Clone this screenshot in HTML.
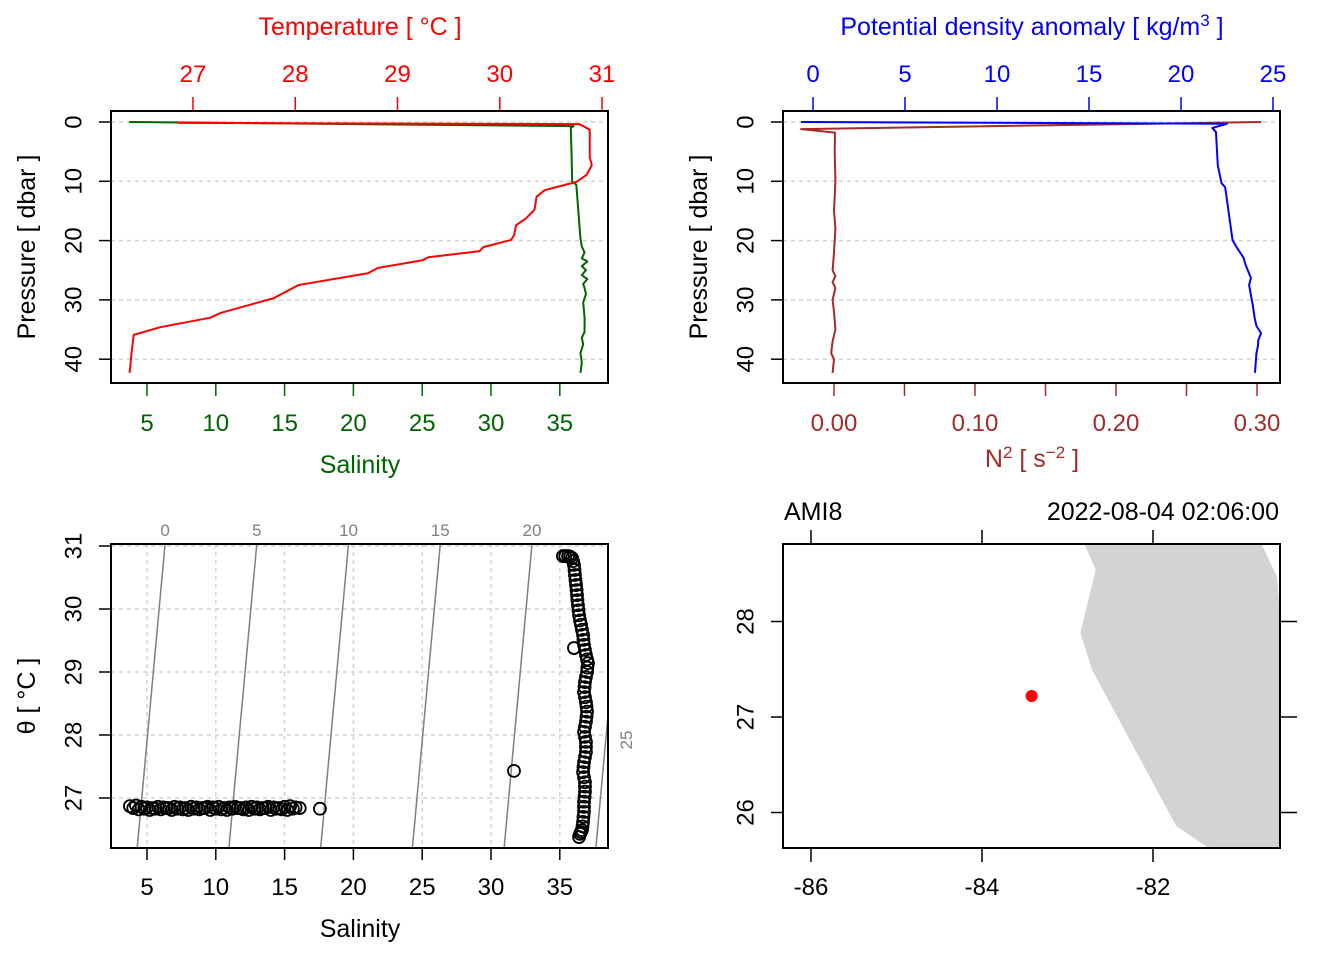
<!DOCTYPE html>
<html><head><meta charset="utf-8"><style>
body{margin:0;background:#fff}
svg{display:block;font-family:"Liberation Sans",sans-serif}
</style></head><body>
<svg id="s" width="1344" height="960" viewBox="0 0 1344 960" xmlns="http://www.w3.org/2000/svg"></svg>
<script>
// ---- data ----
const tempP=[0.15,0.35,1.3,5.9,7.3,8.9,10.1,11.5,12.6,14.8,16.2,17.4,19.1,19.9,21.1,21.8,22.8,23.3,24.6,25.5,27.5,29.7,32.2,33.0,34.6,35.9,38.8,42.3];
const tempT=[26.85,30.78,30.88,30.88,30.9,30.85,30.75,30.44,30.36,30.34,30.26,30.16,30.14,30.11,29.84,29.80,29.30,29.25,28.81,28.71,28.03,27.79,27.27,27.17,26.68,26.42,26.40,26.38];
const salP=[0.0,0.7,1.0,5.0,10.1,10.6,19.6,21,22,23,23.5,24.3,25,25.8,26.5,27.3,28,29,30.4,33,35.4,36.4,37.5,39,40.5,42.3];
const salS=[3.7,36.0,35.8,35.85,35.9,36.2,36.5,36.6,36.8,36.6,37.0,36.6,36.9,36.6,37.0,36.7,36.8,36.9,36.7,36.8,36.8,36.6,36.7,36.5,36.6,36.5];
const sigP=[0,0.3,1.0,1.7,7.3,10.3,11.0,19.9,21,22.9,24,26.3,27.5,30.9,33,34.4,35.6,36.8,37.8,39,42.3];
const sigS=[-0.65,22.5,21.7,21.9,22.0,22.2,22.4,22.8,23.0,23.4,23.5,23.8,23.7,23.9,24.0,24.1,24.35,24.2,24.18,24.1,24.02];
const n2P=[0,1.2,1.8,5,10,15,18,22,25,26,27,28,30,32,35,37,39,40,42.3];
const n2N=[0.303,-0.0234,0.0007,0.0005,0.001,0.0,0.001,0.0,-0.001,0.001,-0.001,0.001,-0.001,0.0,0.001,-0.001,-0.002,0.0,-0.001];
const tsS=[3.76,4.2,4.6,5.0,5.4,5.8,6.2,6.6,7.0,7.4,7.8,8.2,8.6,9.0,9.4,9.8,10.2,10.6,11.0,11.4,11.8,12.2,12.6,13.0,13.4,13.8,14.2,14.6,15.0,15.4,15.8,16.1,17.57,31.67,36.03,
35.23,35.60,35.89,36.03,36.10,36.18,36.25,36.32,36.40,36.54,36.69,36.76,36.90,37.05,36.98,36.83,36.76,36.90,36.98,36.90,36.76,36.90,36.90,36.76,36.69,36.83,36.83,36.76,36.76,36.69,36.61,36.47,
35.4,35.75,35.96,36.07,36.14,36.22,36.28,36.36,36.47,36.61,36.72,36.83,36.98,37.0,36.9,36.8,36.83,36.94,36.94,36.83,36.83,36.9,36.83,36.72,36.76,36.83,36.8,36.76,36.72,36.65,36.54,36.4,
4.0,4.4,4.8,5.2,5.6,6.0,6.4,6.8,7.2,7.6,8.0,8.4,8.8,9.2,9.6,10.0,10.4,10.8,11.2,11.6,12.0,12.4,12.8,13.2,13.6,14.0,14.4,14.8,15.2,15.6];
const tsT=[26.87,26.88,26.86,26.85,26.84,26.86,26.85,26.84,26.86,26.85,26.84,26.86,26.85,26.84,26.86,26.85,26.86,26.84,26.85,26.86,26.84,26.85,26.86,26.85,26.84,26.86,26.85,26.84,26.86,26.87,26.85,26.84,26.83,27.43,29.38,
30.84,30.84,30.81,30.70,30.54,30.38,30.22,30.06,29.90,29.75,29.59,29.43,29.27,29.14,29.00,28.84,28.68,28.52,28.37,28.21,28.05,27.89,27.73,27.57,27.41,27.25,27.10,26.94,26.78,26.62,26.49,26.43,
30.84,30.83,30.76,30.62,30.46,30.30,30.14,29.98,29.82,29.67,29.51,29.35,29.2,29.07,28.92,28.76,28.6,28.45,28.29,28.13,27.97,27.81,27.65,27.49,27.33,27.18,27.02,26.86,26.7,26.55,26.46,26.38,
26.84,26.82,26.83,26.81,26.83,26.82,26.84,26.81,26.83,26.82,26.81,26.83,26.82,26.84,26.81,26.83,26.82,26.81,26.83,26.84,26.82,26.81,26.83,26.82,26.84,26.81,26.83,26.82,26.81,26.83];
const sigLevels=[0,5,10,15,20,25];
const landLon=[-82.80,-82.67,-82.85,-82.71,-81.73,-81.37,-80.51,-80.51,-80.55,-80.73];
const landLat=[28.81,28.54,27.88,27.49,25.86,25.64,25.63,28.02,28.47,28.81];
const stationLon=[-83.42], stationLat=[27.22];
const pTicks=[0,10,20,30,40], tTicks=[27,28,29,30,31], sTicks=[5,10,15,20,25,30,35];
const dTicks=[0,5,10,15,20,25], nTicks=[0,0.05,0.10,0.15,0.20,0.25,0.30], nLabels=["0.00","","0.10","","0.20","","0.30"];
const thTicks=[27,28,29,30,31], lonTicks=[-86,-84,-82], latTicks=[26,27,28];

// ---- scales ----
const py=p=>122+p*5.93;
const tx=t=>193+(t-27)*102.25;
const sx=s=>147+(s-5)*13.76;
const dx=d=>813+d*18.4;
const nx=n=>834+n*1410;
const thy=t=>798-(t-27)*63;
const lx=l=>811+(l+86)*85.5;
const ly=l=>717-(l-27)*95.5;

const S=document.getElementById('s');
const NS='http://www.w3.org/2000/svg';
function el(tag,attrs,name,txt,parent){const e=document.createElementNS(NS,tag);for(const k in attrs)e.setAttribute(k,attrs[k]);


if(txt!==undefined)e.textContent=txt;(parent||S).appendChild(e);return e;}
function line(x1,y1,x2,y2,st,w,name,dash){return el('line',{x1,y1,x2,y2,stroke:st,'stroke-width':w||1,'stroke-dasharray':dash||'none'},name);}
function text(x,y,t,fill,size,name,anchor,rot){const a={x,y,fill,'font-size':size,'text-anchor':anchor||'middle'};if(rot)a.transform=`rotate(-90 ${x} ${y})`;return el('text',a,name,t);}
function poly(xs,ys,st,name){return el('polyline',{points:xs.map((x,i)=>x+','+ys[i]).join(' '),fill:'none',stroke:st,'stroke-width':2,'stroke-linejoin':'round'},name);}
const GD='#d3d3d3';
const TF=24, AF=25;

const defs=el('defs',{},'defs');
[['c1',111,111,497,272],['c2',783,111,497,272],['c3',111,544,497,304],['c4',783,544,497,304]].forEach(c=>{const cp=el('clipPath',{id:c[0]},'clip',undefined,defs);el('rect',{x:c[1],y:c[2],width:c[3],height:c[4]},'clip-rect',undefined,cp);});

// ===== Panel 1 =====
pTicks.forEach(p=>{line(111,py(p),608,py(p),GD,1.5,'pressure-grid','4,4');line(99,py(p),111,py(p),'#000',1.5,'pressure-tick');text(75,py(p),String(p),'#000',TF,'pressure-tick-label','middle',true).setAttribute('dominant-baseline','middle');});
tTicks.forEach(t=>{line(tx(t),97,tx(t),111,'red',1.5,'temperature-tick');text(tx(t),82,String(t),'red',TF,'temperature-tick-label');});
sTicks.forEach(s=>{line(sx(s),383,sx(s),396,'#006400',1.5,'salinity-tick');text(sx(s),431,String(s),'#006400',TF,'salinity-tick-label');});
text(360,35,'Temperature [ °C ]','red',AF,'temperature-axis-title');
text(360,473,'Salinity','#006400',AF,'salinity-axis-title');
text(35,247,'Pressure [ dbar ]','#000',AF,'pressure-axis-title','middle',true);
let g=el('g',{'clip-path':'url(#c1)'},'profile-lines');
g.appendChild(poly(salS.map(sx),salP.map(py),'#006400','salinity-profile'));
g.appendChild(poly(tempT.map(tx),tempP.map(py),'red','temperature-profile'));
el('rect',{x:111,y:111,width:497,height:272,fill:'none',stroke:'#000','stroke-width':2},'panel1-frame');

// ===== Panel 2 =====
pTicks.forEach(p=>{line(783,py(p),1280,py(p),GD,1.5,'pressure-grid','4,4');line(771,py(p),783,py(p),'#000',1.5,'pressure-tick');text(747,py(p),String(p),'#000',TF,'pressure-tick-label','middle',true).setAttribute('dominant-baseline','middle');});
dTicks.forEach(d=>{line(dx(d),97,dx(d),111,'blue',1.5,'density-tick');text(dx(d),82,String(d),'blue',TF,'density-tick-label');});
nTicks.forEach((n,i)=>{line(nx(n),383,nx(n),396,'#a52a2a',1.5,'n2-tick');if(nLabels[i])text(nx(n),431,nLabels[i],'#a52a2a',TF,'n2-tick-label');});
const dt=text(1032,35,'','blue',AF,'density-axis-title');
dt.innerHTML='Potential density anomaly [ kg/m<tspan dy="-9" font-size="17">3</tspan><tspan dy="9"> ]</tspan>';
const nt=text(1032,467,'','#a52a2a',AF,'n2-axis-title');
nt.innerHTML='N<tspan dy="-9" font-size="17">2</tspan><tspan dy="9"> [ s</tspan><tspan dy="-9" font-size="17">−2</tspan><tspan dy="9"> ]</tspan>';
text(707,247,'Pressure [ dbar ]','#000',AF,'pressure-axis-title-2','middle',true);
g=el('g',{'clip-path':'url(#c2)'},'profile-lines-2');
g.appendChild(poly(n2N.map(nx),n2P.map(py),'#a52a2a','n2-profile'));
g.appendChild(poly(sigS.map(dx),sigP.map(py),'blue','density-profile'));
el('rect',{x:783,y:111,width:497,height:272,fill:'none',stroke:'#000','stroke-width':2},'panel2-frame');

// ===== Panel 3 (TS) =====
sTicks.forEach(s=>{line(sx(s),544,sx(s),848,GD,1.5,'ts-grid-v','4,4');line(sx(s),848,sx(s),860,'#000',1.5,'ts-salinity-tick');text(sx(s),895,String(s),'#000',TF,'ts-salinity-tick-label');});
thTicks.forEach(t=>{line(111,thy(t),608,thy(t),GD,1.5,'ts-grid-h','4,4');line(99,thy(t),111,thy(t),'#000',1.5,'theta-tick');text(75,thy(t),String(t),'#000',TF,'theta-tick-label','middle',true).setAttribute('dominant-baseline','middle');});
text(360,937,'Salinity','#000',AF,'ts-salinity-axis-title');
text(35,696,'θ [ °C ]','#000',AF,'theta-axis-title','middle',true);
g=el('g',{'clip-path':'url(#c3)'},'ts-content');
const isoS=(sig,T)=>(sig+0.315*T-5.04)/0.75;
const Ttop=31.03,Tbot=26.2;
sigLevels.forEach(sig=>{
  el('line',{x1:sx(isoS(sig,Ttop)),y1:thy(Ttop),x2:sx(isoS(sig,Tbot)),y2:thy(Tbot),stroke:'#808080','stroke-width':1.5},'isopycnal-line',undefined,g);
  const xt=sx(isoS(sig,Ttop));
  if(xt<=608) text(xt,536,String(sig),'#808080',17,'isopycnal-label');
  else text(632,740,String(sig),'#808080',17,'isopycnal-label','middle',true);
});
tsS.forEach((s,i)=>{el('circle',{cx:sx(s),cy:thy(tsT[i]),r:6,fill:'none',stroke:'#000','stroke-width':1.8},'ts-point',undefined,g);});
el('rect',{x:111,y:544,width:497,height:304,fill:'none',stroke:'#000','stroke-width':2},'panel3-frame');

// ===== Panel 4 (map) =====
g=el('g',{'clip-path':'url(#c4)'},'map-content');
el('polygon',{points:landLon.map((l,i)=>lx(l)+','+ly(landLat[i])).join(' '),fill:'#d3d3d3',stroke:'none'},'coastline-land',undefined,g);
stationLon.forEach((l,i)=>el('circle',{cx:lx(l),cy:ly(stationLat[i]),r:6,fill:'red'},'station-marker',undefined,g));
lonTicks.forEach(l=>{line(lx(l),530,lx(l),544,'#000',1.5,'lon-tick-top');line(lx(l),848,lx(l),862,'#000',1.5,'lon-tick');text(lx(l),895,String(l),'#000',TF,'lon-tick-label');});
latTicks.forEach(l=>{line(771,ly(l),783,ly(l),'#000',1.5,'lat-tick');line(1280,ly(l),1297,ly(l),'#000',1.5,'lat-tick-right');text(747,ly(l),String(l),'#000',TF,'lat-tick-label','middle',true).setAttribute('dominant-baseline','middle');});
text(784,520,'AMI8','#000',AF,'station-name','start');
text(1279,520,'2022-08-04 02:06:00','#000',AF,'station-time','end');
el('rect',{x:783,y:544,width:497,height:304,fill:'none',stroke:'#000','stroke-width':2},'panel4-frame');
</script>
</body></html>
